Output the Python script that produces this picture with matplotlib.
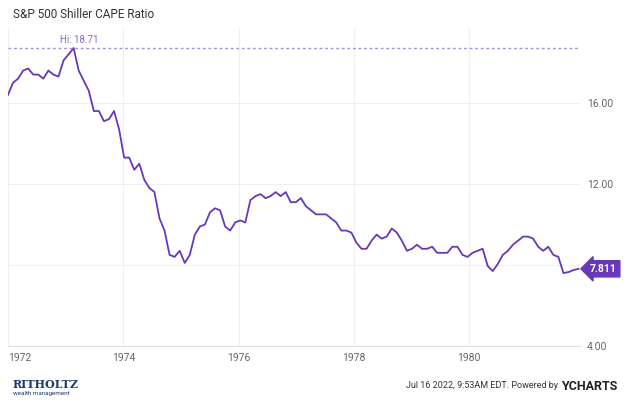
import matplotlib
matplotlib.use("Agg")
import matplotlib.pyplot as plt
import pandas as pd
import numpy as np

plt.rcParams['font.family'] = ['Roboto', 'DejaVu Sans']

values = [16.4,17.0,17.2,17.6,17.7,17.4,17.4,17.2,17.6,17.4,17.3,18.1,18.4,18.71,17.6,17.1,16.6,
          15.6,15.6,15.1,15.2,15.6,14.7,13.3,13.3,12.7,13.0,12.2,11.8,11.6,10.3,9.7,8.5,8.4,8.7,8.1,8.5,
          9.5,9.9,10.0,10.6,10.8,10.7,9.9,9.7,10.1,10.2,10.1,11.2,11.4,11.5,11.3,11.4,11.6,11.4,11.6,
          11.1,11.1,11.3,10.9,10.7,10.5,10.5,10.5,10.3,10.1,9.7,9.7,9.6,9.1,8.8,8.8,9.2,9.5,9.3,9.4,
          9.8,9.6,9.2,8.7,8.8,9.0,8.8,8.8,8.9,8.6,8.6,8.6,8.9,8.9,8.5,8.4,8.6,8.7,8.8,7.95,7.7,8.05,
          8.5,8.7,9.0,9.2,9.4,9.4,9.3,8.9,8.7,8.9,8.5,8.4,7.6,7.65,7.75,7.811]
dates = pd.date_range('1972-01-01', '1981-11-25', periods=len(values))
yticks = [4, 8, 12, 16]
xtick_years = [1972, 1974, 1976, 1978, 1980]
hi = max(values)
last = values[-1]
purple = '#6738b8'

fig = plt.figure(figsize=(6.4, 4.0), dpi=100)
ax = fig.add_axes([0.0125, 0.135, 0.894, 0.795])
ax.plot(dates, values, color=purple, lw=1.3)
ax.axhline(hi, color='#a98bd9', ls=(0, (2, 2)), lw=1)
ax.annotate(f'Hi: {hi}', xy=(dates[values.index(hi)], hi), xytext=(4, 2), textcoords='offset points',
            color='#8a63cc', fontsize=7, ha='center', va='bottom')
ax.set_ylim(4, 19.7)
ax.set_xlim(pd.Timestamp('1972-01-01'), dates[-1] + pd.Timedelta(days=10))
ax.set_yticks(yticks)
ax.set_yticklabels([f'{v:.2f}' for v in yticks])
ax.set_xticks([pd.Timestamp(f'{y}-01-01') for y in xtick_years])
ax.set_xticklabels([str(y) for y in xtick_years])
ax.get_xticklabels()[0].set_horizontalalignment('left')
ax.yaxis.tick_right()
ax.tick_params(length=0, labelsize=7.5, colors='#666666', pad=5)
ax.grid(True, color='#efefef', lw=0.8)
for s in ax.spines.values():
    s.set_visible(False)
ax.spines['bottom'].set_visible(True)
ax.spines['bottom'].set_color('#e0e0e0')
ax.annotate(f'{last:.3f}', xy=(1.0, (last - 4) / 15.7), xycoords='axes fraction',
            xytext=(7, 0), textcoords='offset points', ha='left', va='center',
            color='white', fontsize=7.5, fontweight='bold',
            bbox=dict(boxstyle='larrow,pad=0.3', fc=purple, ec=purple))
fig.text(0.02, 0.965, 'S&P 500 Shiller CAPE Ratio', fontsize=8.5, color='#333333', va='center')
fig.text(0.02, 0.04, 'RITHOLTZ', fontsize=8, color='#1f3a6e', fontfamily='DejaVu Serif', fontweight='bold', va='center')
fig.text(0.02, 0.015, 'wealth management', fontsize=4.5, color='#1f3a6e', va='center')
fig.text(0.875, 0.035, 'Jul 16 2022, 9:53AM EDT. Powered by ', fontsize=6.5, color='#333333', ha='right', va='center')
fig.text(0.877, 0.035, 'YCHARTS', fontsize=9, color='#222222', fontweight='bold', ha='left', va='center')
fig.savefig('out.png', dpi=100)
